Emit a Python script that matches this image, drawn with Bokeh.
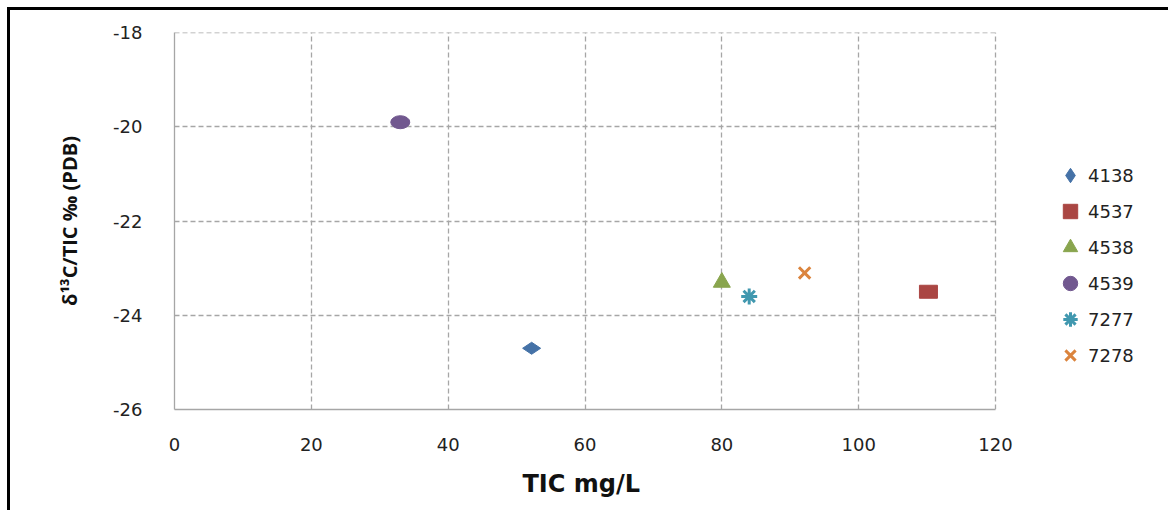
import math
from bokeh.plotting import figure
from bokeh.models import Legend, LegendItem, FixedTicker, ColumnDataSource, Title
from bokeh.embed import file_html
from bokeh.resources import INLINE

# ---- data ----
samples = ["4138", "4537", "4538", "4539", "7277", "7278"]
tic_mg_l = [52.2, 110.2, 80.0, 33.0, 84.0, 92.1]
d13c_tic = [-24.7, -23.5, -23.3, -19.9, -23.6, -23.1]
colors = ["#4572A7", "#AA4643", "#89A54E", "#71588F", "#4198AF", "#DB843D"]
x_ticks = [0, 20, 40, 60, 80, 100, 120]
y_ticks = [-26, -24, -22, -20, -18]

# ---- layout (page pixels) ----
OFF = 10                      # css margin+border of the outer frame
PAGE_W, PAGE_H = 1171, 513
AX_L, AX_R, AX_T, AX_B = 174, 995, 32, 409   # axes box of the 0..120 / -26..-18 area
W, H = PAGE_W - OFF, PAGE_H - OFF
X_MAX = 120.0
x_end = X_MAX * (PAGE_W - AX_L) / (AX_R - AX_L)   # frame extends under the legend

p = figure(width=W, height=H, output_backend="svg", toolbar_location=None,
           x_range=(0, x_end), y_range=(-26, -17.995),
           min_border_left=AX_L - OFF, min_border_right=0,
           min_border_top=AX_T - OFF, min_border_bottom=PAGE_H - AX_B)
p.outline_line_color = None
p.background_fill_color = "white"
p.border_fill_color = "white"
p.styles = {"margin-left": "7px", "margin-top": "7px",
            "border-left": "3px solid black", "border-top": "3px solid black"}

tick_font = "DejaVu Sans"
for ax in (p.xaxis[0], p.yaxis[0]):
    ax.axis_line_color = "#A6A6A6"
    ax.axis_line_width = 1.3
    ax.major_tick_line_color = None
    ax.minor_tick_line_color = None
    ax.major_label_text_font = tick_font
    ax.major_label_text_font_size = "18px"
    ax.major_label_text_color = "#222222"
    ax.axis_label_text_font_style = "bold"
    ax.axis_label_text_color = "#111111"

p.xaxis.bounds = (0, X_MAX)
p.yaxis.bounds = (-26, -18)
p.xaxis.ticker = FixedTicker(ticks=x_ticks)
p.yaxis.ticker = FixedTicker(ticks=y_ticks)
p.xaxis.major_label_overrides = {t: str(t) for t in x_ticks}
p.yaxis.major_label_overrides = {t: str(t) for t in y_ticks}
p.xaxis.major_label_standoff = 22
p.yaxis.major_label_standoff = 26
p.yaxis.axis_label = "δ¹³C/TIC ‰ (PDB)"
p.yaxis.axis_label_text_font = "Open Sans"
p.yaxis.axis_label_text_font_size = "20px"
p.yaxis.axis_label_standoff = 27

# x-axis title, centred under the 0..120 axis (the frame itself runs under the legend)
xtitle = Title(text="TIC mg/L", align="left", offset=522 - AX_L, vertical_align="middle",
               text_font="DejaVu Sans", text_font_size="24px", text_font_style="bold",
               text_color="#111111", standoff=30)
p.add_layout(xtitle, "below")

for g in (p.xgrid[0], p.ygrid[0]):
    g.grid_line_color = "#A6A6A6"
    g.grid_line_dash = "5 3"
    g.grid_line_width = 1.3
p.xgrid[0].ticker = FixedTicker(ticks=x_ticks)
p.ygrid[0].ticker = FixedTicker(ticks=y_ticks)
try:
    p.ygrid[0].cross_bounds = (0, X_MAX)
except Exception:
    p.ygrid[0].visible = False
    p.multi_line(xs=[[0, X_MAX] for _ in y_ticks], ys=[[t, t] for t in y_ticks],
                 line_color="#A6A6A6", line_dash="5 3", line_width=1.3)

sources = [ColumnDataSource(dict(x=[x], y=[y])) for x, y in zip(tic_mg_l, d13c_tic)]

# plotted marks (shapes slightly wider than tall, as in the original)
p.scatter("x", "y", source=sources[0], marker="diamond", size=18, angle=math.pi / 2,
          fill_color=colors[0], line_color=colors[0])
p.rect("x", "y", width=18, height=13, width_units="screen", height_units="screen",
       source=sources[1], fill_color=colors[1], line_color=colors[1])
p.scatter("x", "y", source=sources[2], marker="triangle", size=17,
          fill_color=colors[2], line_color=colors[2])
p.ellipse("x", "y", width=19, height=13, width_units="screen", height_units="screen",
          source=sources[3], fill_color=colors[3], line_color=colors[3])
p.scatter("x", "y", source=sources[4], marker="asterisk", size=16,
          line_color=colors[4], line_width=3)
p.scatter("x", "y", source=sources[5], marker="x", size=16,
          line_color=colors[5], line_width=3)

# legend glyphs (hidden renderers on the same data, used only for the legend)
leg_markers = ["diamond", "square", "triangle", "circle", "asterisk", "x"]
leg_renderers = []
for src, m, c in zip(sources, leg_markers, colors):
    lw = 3 if m in ("asterisk", "x") else 1
    r = p.scatter("x", "y", source=src, marker=m, fill_color=c, line_color=c,
                  line_width=lw, visible=False)
    leg_renderers.append(r)

items = [LegendItem(label=n, renderers=[r]) for n, r in zip(samples, leg_renderers)]
legend = Legend(items=items, location=(1052 - AX_L, AX_B - 373), orientation="vertical",
                label_text_font=tick_font, label_text_font_size="18px",
                label_text_color="#222222",
                glyph_width=36, glyph_height=36, label_height=21,
                spacing=0, padding=0, margin=0, label_standoff=0,
                border_line_color=None, background_fill_alpha=0,
                inactive_fill_alpha=0)
p.add_layout(legend, "center")

open("out.html", "w").write(file_html(p, INLINE))
